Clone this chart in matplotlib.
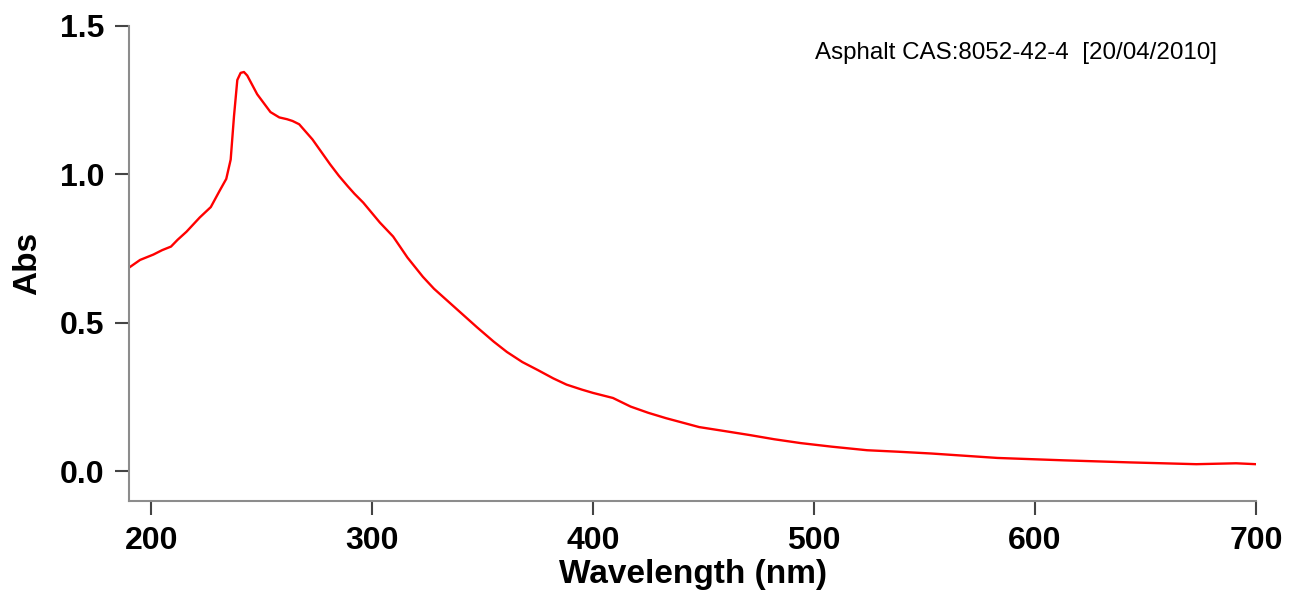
import matplotlib.pyplot as plt

plt.rcParams['font.family'] = ['Liberation Sans', 'DejaVu Sans']

# UV-Vis spectrum, values
wavelength = [190, 195, 201, 205, 209, 212, 216, 222, 227, 231, 234, 236,
              237.5, 239, 240.5, 242, 243.5, 248, 254, 258, 261.5, 264, 267,
              273, 281, 285, 289, 292, 296, 303.5, 309.5, 316, 323, 328, 334,
              340, 347.5, 355, 361, 368, 375, 382, 388, 395, 400, 409, 417,
              425, 433, 440, 448, 460, 471, 482, 494, 508, 524, 538, 553, 583,
              613, 643, 673, 691, 700]
absorbance = [0.686, 0.712, 0.73, 0.745, 0.757, 0.78, 0.807, 0.855, 0.89,
              0.945, 0.985, 1.05, 1.196, 1.318, 1.342, 1.345, 1.333, 1.27,
              1.21, 1.192, 1.186, 1.18, 1.169, 1.118, 1.034, 0.995, 0.96,
              0.935, 0.905, 0.838, 0.791, 0.72, 0.655, 0.615, 0.575, 0.535,
              0.485, 0.437, 0.402, 0.368, 0.341, 0.313, 0.292, 0.275, 0.264,
              0.247, 0.218, 0.197, 0.179, 0.165, 0.149, 0.135, 0.122, 0.108,
              0.095, 0.083, 0.071, 0.066, 0.060, 0.045, 0.037, 0.030, 0.024,
              0.027, 0.024]
x_ticks = [200, 300, 400, 500, 600, 700]
y_ticks = [0.0, 0.5, 1.0, 1.5]
title = 'Asphalt CAS:8052-42-4  [20/04/2010]'

fig = plt.figure(figsize=(13.06, 6.0), dpi=100)
ax = fig.add_axes([0.0988, 0.165, 0.8629, 0.7917])
ax.plot(wavelength, absorbance, color='#ff0000', lw=1.7)

ax.set_xlim(190, 700)
ax.set_ylim(-0.1, 1.5)
ax.set_xticks(x_ticks)
ax.set_yticks(y_ticks)
ax.set_yticklabels(['%.1f' % v for v in y_ticks])

for side in ['top', 'right']:
    ax.spines[side].set_visible(False)
for side in ['left', 'bottom']:
    ax.spines[side].set_color('#8c8c8c')
    ax.spines[side].set_linewidth(1.5)

ax.tick_params(direction='out', length=10, width=1.5, color='#444444',
               labelsize=23, pad=8)
for lab in ax.get_xticklabels() + ax.get_yticklabels():
    lab.set_fontweight('bold')

ax.set_xlabel('Wavelength (nm)', fontsize=24, fontweight='bold', labelpad=2)
ax.set_ylabel('Abs', fontsize=24, fontweight='bold', labelpad=12)

fig.text(815 / 1306, 1 - 53 / 600, title, fontsize=17.4, ha='left', va='center')

fig.savefig('out.png', dpi=100)
